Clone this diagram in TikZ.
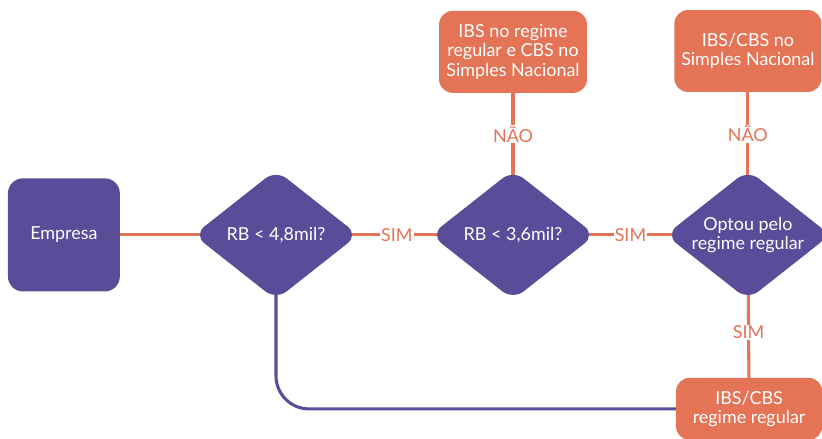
\documentclass[tikz,border=0pt]{standalone}
\usepackage{fontspec}
\setmainfont{Lato}
\usepackage{xcolor}
\usetikzlibrary{shapes.geometric}
\usetikzlibrary{backgrounds}
\definecolor{roxo}{RGB}{90,76,153}
\definecolor{laranja}{RGB}{229,115,85}

\begin{document}
\begin{tikzpicture}[
    every node/.style={font=\fontsize{17}{18.5}\selectfont},
    caixa/.style={rectangle, rounded corners=0.5cm, fill=roxo, text=white, align=center, inner sep=0pt},
    resultado/.style={rectangle, rounded corners=0.45cm, fill=laranja, text=white, align=center, inner sep=0pt},
    decisao/.style={diamond, rounded corners=0.45cm, fill=roxo, text=white, align=center, inner sep=0pt, shape aspect=1.27, minimum width=5.49cm, minimum height=4.33cm},
    rotulo/.style={fill=white, text=laranja, inner sep=1pt},
    ligacao/.style={draw=laranja, line width=2.9pt},
    retorno/.style={draw=roxo, line width=2.9pt, rounded corners=1.1cm}
  ]
    \useasboundingbox (0,0) rectangle (27.4,-14.633);
    \node[caixa, minimum width=3.73cm, minimum height=3.77cm] (empresa) at (2.13,-7.83) {Empresa};
    \node[decisao] (rb48) at (9.2,-7.83) {RB < 4,8mil?};
    \node[decisao] (rb36) at (17.1,-7.83) {RB < 3,6mil?};
    \node[decisao] (optou) at (24.93,-7.83) {Optou pelo\\regime regular};
    \node[resultado, minimum width=4.93cm, minimum height=2.73cm] (misto) at (17.1,-1.73) {IBS no regime\\regular e CBS no\\Simples Nacional};
    \node[resultado, minimum width=4.9cm, minimum height=2.73cm] (simples) at (24.93,-1.7) {IBS/CBS no\\Simples Nacional};
    \node[resultado, minimum width=4.87cm, minimum height=2.07cm] (regular) at (24.97,-13.63) {IBS/CBS\\regime regular};
    \begin{pgfonlayer}{background}
      \draw[ligacao] (empresa.center) -- (rb48.center);
      \draw[ligacao] (rb48.center) -- node[rotulo, pos=0.51] (sim1) {SIM} (rb36.center);
      \draw[ligacao] (rb36.center) -- node[rotulo, pos=0.5] (sim2) {SIM} (optou.center);
      \draw[ligacao] (misto.center) -- node[rotulo, pos=0.45] (nao1) {NÃO} (rb36.center);
      \draw[ligacao] (simples.center) -- node[rotulo, pos=0.45] (nao2) {NÃO} (optou.center);
      \draw[ligacao] (optou.center) -- node[rotulo, pos=0.56] (sim3) {SIM} (regular.center);
      \draw[retorno] (rb48.center) |- (regular.center);
    \end{pgfonlayer}
\end{tikzpicture}
\end{document}
